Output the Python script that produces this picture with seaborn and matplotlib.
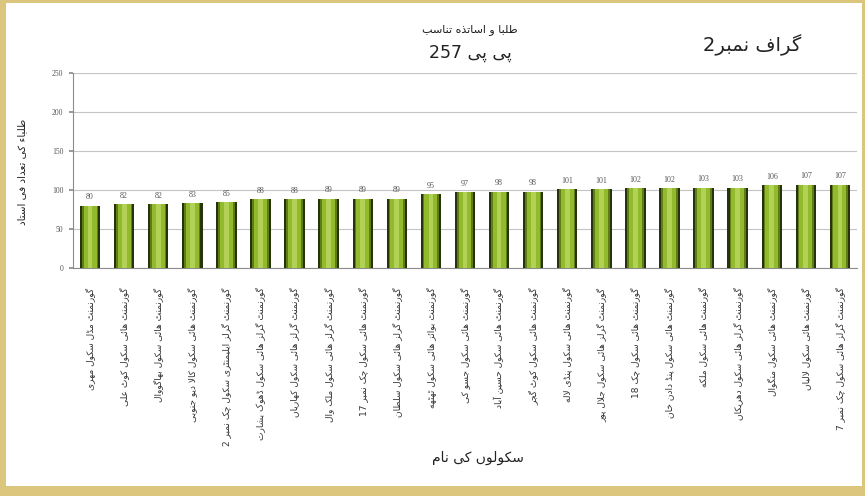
import re
import matplotlib
matplotlib.use("Agg")
import matplotlib.pyplot as plt
from matplotlib.patches import Rectangle
import pandas as pd
import seaborn as sns

# ---------------- data ----------------
schools = [
    "گورنمنٹ مڈل سکول مہرے",
    "گورنمنٹ ہائی سکول کوٹ علی",
    "گورنمنٹ ہائی سکول بھاگووال",
    "گورنمنٹ ہائی سکول کالا دیو جنوبی",
    "گورنمنٹ گرلز ایلیمنٹری سکول چک نمبر 2",
    "گورنمنٹ گرلز ہائی سکول ڈھوک بشارت",
    "گورنمنٹ گرلز ہائی سکول کھاریاں",
    "گورنمنٹ گرلز ہائی سکول ملک وال",
    "گورنمنٹ ہائی سکول چک نمبر 17",
    "گورنمنٹ گرلز ہائی سکول سلطان",
    "گورنمنٹ بوائز ہائی سکول ٹھٹھہ",
    "گورنمنٹ ہائی سکول جسو کی",
    "گورنمنٹ ہائی سکول حسین آباد",
    "گورنمنٹ ہائی سکول کوٹ گجر",
    "گورنمنٹ ہائی سکول پنڈی لالہ",
    "گورنمنٹ گرلز ہائی سکول جلال پور",
    "گورنمنٹ ہائی سکول چک 18",
    "گورنمنٹ ہائی سکول پنڈ دادن خان",
    "گورنمنٹ ہائی سکول ملکہ",
    "گورنمنٹ گرلز ہائی سکول دھریکاں",
    "گورنمنٹ ہائی سکول منگوال",
    "گورنمنٹ ہائی سکول لالیاں",
    "گورنمنٹ گرلز ہائی سکول چک نمبر 7",
]
values = [80, 82, 82, 83, 85, 88, 88, 89, 89, 89, 95, 97, 98, 98,
          101, 101, 102, 102, 103, 103, 106, 107, 107]
y_ticks = [0, 50, 100, 150, 200, 250]
title_line1 = "طلبا و اساتذہ تناسب"
title_line2 = "پی پی 257"
graph_label = "گراف نمبر2"
y_label = "طلباء کی تعداد فی استاد"
x_label = "سکولوں کے نام"

# ---------------- minimal Arabic/Urdu shaping (matplotlib has no shaper) ----------------
_F = {
    'ء': ('\uFE80', None, None, None),
    'آ': ('\uFE81', '\uFE82', None, None),
    'أ': ('\uFE83', '\uFE84', None, None),
    'ؤ': ('\uFE85', '\uFE86', None, None),
    'ئ': ('\uFE89', '\uFE8A', '\uFE8B', '\uFE8C'),
    'ا': ('\uFE8D', '\uFE8E', None, None),
    'ب': ('\uFE8F', '\uFE90', '\uFE91', '\uFE92'),
    'ت': ('\uFE95', '\uFE96', '\uFE97', '\uFE98'),
    'ث': ('\uFE99', '\uFE9A', '\uFE9B', '\uFE9C'),
    'ج': ('\uFE9D', '\uFE9E', '\uFE9F', '\uFEA0'),
    'ح': ('\uFEA1', '\uFEA2', '\uFEA3', '\uFEA4'),
    'خ': ('\uFEA5', '\uFEA6', '\uFEA7', '\uFEA8'),
    'د': ('\uFEA9', '\uFEAA', None, None),
    'ذ': ('\uFEAB', '\uFEAC', None, None),
    'ر': ('\uFEAD', '\uFEAE', None, None),
    'ز': ('\uFEAF', '\uFEB0', None, None),
    'س': ('\uFEB1', '\uFEB2', '\uFEB3', '\uFEB4'),
    'ش': ('\uFEB5', '\uFEB6', '\uFEB7', '\uFEB8'),
    'ص': ('\uFEB9', '\uFEBA', '\uFEBB', '\uFEBC'),
    'ض': ('\uFEBD', '\uFEBE', '\uFEBF', '\uFEC0'),
    'ط': ('\uFEC1', '\uFEC2', '\uFEC3', '\uFEC4'),
    'ظ': ('\uFEC5', '\uFEC6', '\uFEC7', '\uFEC8'),
    'ع': ('\uFEC9', '\uFECA', '\uFECB', '\uFECC'),
    'غ': ('\uFECD', '\uFECE', '\uFECF', '\uFED0'),
    'ف': ('\uFED1', '\uFED2', '\uFED3', '\uFED4'),
    'ق': ('\uFED5', '\uFED6', '\uFED7', '\uFED8'),
    'ل': ('\uFEDD', '\uFEDE', '\uFEDF', '\uFEE0'),
    'م': ('\uFEE1', '\uFEE2', '\uFEE3', '\uFEE4'),
    'ن': ('\uFEE5', '\uFEE6', '\uFEE7', '\uFEE8'),
    'و': ('\uFEED', '\uFEEE', None, None),
    'ٹ': ('\uFB66', '\uFB67', '\uFB68', '\uFB69'),
    'پ': ('\uFB56', '\uFB57', '\uFB58', '\uFB59'),
    'چ': ('\uFB7A', '\uFB7B', '\uFB7C', '\uFB7D'),
    'ڈ': ('\uFB88', '\uFB89', None, None),
    'ڑ': ('\uFB8C', '\uFB8D', None, None),
    'ژ': ('\uFB8A', '\uFB8B', None, None),
    'ک': ('\uFB8E', '\uFB8F', '\uFB90', '\uFB91'),
    'گ': ('\uFB92', '\uFB93', '\uFB94', '\uFB95'),
    'ں': ('\uFB9E', '\uFB9F', '\uFEE7', '\uFEE8'),
    'ہ': ('\uFEE9', '\uFEEA', '\uFEEB', '\uFEEC'),
    'ھ': ('\uFBAA', '\uFBAB', '\uFBAC', '\uFBAD'),
    'ے': ('\uFEEF', '\uFEF0', None, None),
    'ی': ('\uFBFC', '\uFBFD', '\uFBFE', '\uFBFF'),
}
_LAMALEF = {'ا': ('\uFEFB', '\uFEFC'), 'آ': ('\uFEF5', '\uFEF6'), 'أ': ('\uFEF7', '\uFEF8')}


def _can_join_next(c):
    return c in _F and _F[c][2] is not None


def _can_join_prev(c):
    return c in _F and _F[c][1] is not None


def _shape(s):
    out = []
    i = 0
    n = len(s)
    while i < n:
        c = s[i]
        prev = s[i - 1] if i > 0 else ''
        nxt = s[i + 1] if i + 1 < n else ''
        jp = _can_join_next(prev) and _can_join_prev(c)
        if c == 'ل' and nxt in _LAMALEF:
            out.append(_LAMALEF[nxt][1 if jp else 0])
            i += 2
            continue
        if c not in _F:
            out.append(c)
            i += 1
            continue
        jn = _can_join_next(c) and _can_join_prev(nxt)
        iso, fin, ini, med = _F[c]
        if jp and jn:
            out.append(med)
        elif jp:
            out.append(fin)
        elif jn:
            out.append(ini)
        else:
            out.append(iso)
        i += 1
    return ''.join(out)


def vis(s):
    shaped = _shape(s)
    runs = re.findall(r'[0-9A-Za-z.]+|[^0-9A-Za-z.]+', shaped)
    out = []
    for r in reversed(runs):
        out.append(r if re.match(r'[0-9A-Za-z]', r) else r[::-1])
    return ''.join(out)


# ---------------- figure ----------------
sns.set_theme(style="white")
plt.rcParams['font.family'] = ['DejaVu Sans']

W, H = 865, 496
fig = plt.figure(figsize=(W / 100, H / 100), dpi=100)
fig.patch.set_facecolor('#dcc57c')
fig.patches.append(Rectangle((6 / W, 10 / H), 856 / W, 483 / H,
                             transform=fig.transFigure, facecolor='white',
                             edgecolor='none', zorder=-5))

ax = fig.add_axes([73 / W, 1 - 268 / H, 784 / W, 195 / H])
ax.set_zorder(2)
ax.set_facecolor('white')

df = pd.DataFrame({'school': [vis(s) for s in schools], 'value': values})

common = dict(data=df, x='school', y='value', saturation=1, errorbar=None,
              ax=ax, linewidth=0, edgecolor='none')
sns.barplot(color='#27330a', width=0.6, zorder=3, **common)
sns.barplot(color='#5f7d16', width=0.48, zorder=4, **common)
sns.barplot(color='#93b92c', width=0.38, zorder=5, **common)
sns.barplot(color='#b2d257', width=0.14, zorder=6, **common)

ax.bar_label(ax.containers[0], fmt='%d', padding=3, fontsize=5.8,
             color='#555555', family='Liberation Serif')

ax.set_ylim(0, 250)
ax.set_xlim(-0.5, len(values) - 0.5)
ax.set_yticks(y_ticks)
ax.set_yticklabels([str(t) for t in y_ticks], fontsize=5.5, color='#555555',
                   family='Liberation Serif')
ax.yaxis.grid(True, color='#c4c4c4', lw=0.8, zorder=0)
ax.set_axisbelow(True)
for side in ['top', 'right']:
    ax.spines[side].set_visible(False)
for side in ['left', 'bottom']:
    ax.spines[side].set_color('#8c8c8c')
    ax.spines[side].set_linewidth(0.8)
ax.tick_params(axis='y', length=3, color='#8c8c8c', pad=4, left=True)
ax.tick_params(axis='x', length=0, pad=14)
ax.set_xticks(range(len(values)))
ax.set_xticklabels(df['school'], rotation=90, fontsize=6.5, color='#333333',
                   ha='center', va='top')
ax.set_xlabel('')
ax.set_ylabel('')

fig.text(470 / W, 1 - 30 / H, vis(title_line1), ha='center', va='center',
         fontsize=8, color='#222222')
fig.text(470 / W, 1 - 53 / H, vis(title_line2), ha='center', va='center',
         fontsize=12.5, color='#222222')
fig.text(752 / W, 1 - 45 / H, vis(graph_label), ha='center', va='center',
         fontsize=14, color='#222222')
fig.text(22 / W, 1 - 172 / H, vis(y_label), ha='center', va='center',
         rotation=90, fontsize=7.5, color='#222222')
fig.text(478 / W, 1 - 458 / H, vis(x_label), ha='center', va='center',
         fontsize=10, color='#222222')

fig.savefig('out.png', dpi=100, facecolor=fig.get_facecolor())
